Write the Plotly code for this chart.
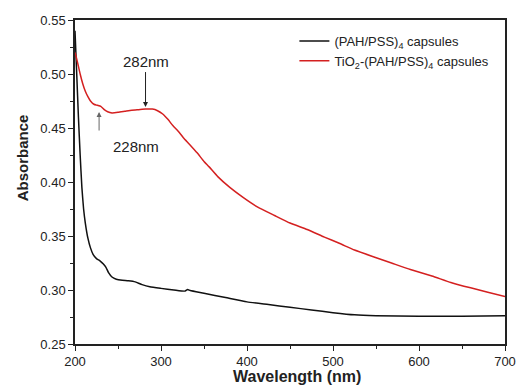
import plotly.graph_objects as go

# Black curve: (PAH/PSS)4 capsules
wl_black = [200, 202, 204, 206, 208, 210, 212, 215, 218, 221, 225, 229, 233, 236, 239, 243,
            248, 255, 262, 270, 278, 287, 300, 315, 328, 331, 334, 350, 375, 400, 425, 450,
            475, 500, 525, 550, 600, 650, 700]
abs_black = [0.540, 0.500, 0.460, 0.425, 0.395, 0.375, 0.362, 0.348, 0.339, 0.333, 0.329, 0.327,
             0.324, 0.321, 0.316, 0.312, 0.310, 0.309, 0.3085, 0.3075, 0.305, 0.303, 0.3015,
             0.300, 0.299, 0.3005, 0.2995, 0.297, 0.293, 0.289, 0.2865, 0.284, 0.2815, 0.279,
             0.277, 0.2762, 0.2758, 0.2757, 0.2762]

# Red curve: TiO2-(PAH/PSS)4 capsules
wl_red = [200, 202, 204, 206, 209, 212, 215, 218, 222, 226, 230, 234, 238, 243, 250, 258, 266,
          274, 282, 290, 296, 302, 308, 314, 320, 326, 333, 342, 350, 356, 366, 380, 395, 412,
          432, 450, 470, 490, 508, 525, 546, 568, 590, 615, 637, 660, 680, 700]
abs_red = [0.520, 0.514, 0.507, 0.500, 0.491, 0.484, 0.479, 0.475, 0.472, 0.471, 0.470, 0.467,
           0.465, 0.464, 0.4645, 0.4655, 0.4665, 0.467, 0.4675, 0.4675, 0.466, 0.463, 0.458,
           0.452, 0.447, 0.441, 0.435, 0.427, 0.419, 0.414, 0.405, 0.395, 0.386, 0.377, 0.369,
           0.362, 0.356, 0.349, 0.343, 0.337, 0.331, 0.325, 0.319, 0.313, 0.307, 0.302, 0.298,
           0.294]

x_ticks = [200, 300, 400, 500, 600, 700]
y_ticks = [0.25, 0.30, 0.35, 0.40, 0.45, 0.50, 0.55]
y_tick_labels = ["0.25", "0.30", "0.35", "0.40", "0.45", "0.50", "0.55"]

FONT = "Arial, Liberation Sans, sans-serif"

fig = go.Figure()
fig.add_trace(go.Scatter(x=wl_black, y=abs_black, mode="lines",
                         line=dict(color="#111111", width=1.5, shape="spline", smoothing=0.5),
                         name="(PAH/PSS)<sub>4</sub> capsules"))
fig.add_trace(go.Scatter(x=wl_red, y=abs_red, mode="lines",
                         line=dict(color="#d42020", width=1.5, shape="spline", smoothing=0.5),
                         name="TiO<sub>2</sub>-(PAH/PSS)<sub>4</sub> capsules"))

W, H = 525, 388
L, T = 75, 20
pw, ph = 441, 324
R = W - L - pw
B = H - T - ph

def px_x(p):  # p in page pixels
    return (p - L) / pw

def px_y(p):
    return 1 - (p - T) / ph

fig.update_layout(
    width=W, height=H,
    margin=dict(l=L, r=R, t=T, b=B, pad=0),
    paper_bgcolor="white", plot_bgcolor="white",
    font=dict(family=FONT, size=13, color="#222222"),
    showlegend=True,
    legend=dict(x=px_x(300), y=px_y(26), xanchor="left", yanchor="top",
                bgcolor="rgba(0,0,0,0)", font=dict(size=13, family=FONT, color="#222222"),
                tracegroupgap=0, itemwidth=30),
    xaxis=dict(range=[200, 700], tickvals=x_ticks, ticktext=[str(v) for v in x_ticks],
               showgrid=False, zeroline=False, showline=True, linecolor="#222222",
               linewidth=1.5, mirror=True, ticks="outside", ticklen=5, tickwidth=1.2,
               tickcolor="#222222", tickfont=dict(size=13),
               minor=dict(tickvals=[250, 350, 450, 550, 650], ticks="outside", ticklen=3,
                          tickwidth=1.2, tickcolor="#222222")),
    yaxis=dict(range=[0.25, 0.55], tickvals=y_ticks, ticktext=y_tick_labels,
               showgrid=False, zeroline=False, showline=True, linecolor="#222222",
               linewidth=1.5, mirror=True, ticks="outside", ticklen=5, tickwidth=1.2,
               tickcolor="#222222", tickfont=dict(size=13),
               minor=dict(tickvals=[0.275, 0.325, 0.375, 0.425, 0.475, 0.525], ticks="outside",
                          ticklen=3, tickwidth=1.2, tickcolor="#222222")),
)

# Axis titles
fig.add_annotation(text="<b>Wavelength (nm)</b>", xref="paper", yref="paper",
                   x=px_x(303), y=px_y(376), showarrow=False, font=dict(size=16),
                   xanchor="center", yanchor="middle")
fig.add_annotation(text="<b>Absorbance</b>", xref="paper", yref="paper",
                   x=px_x(21), y=px_y(158), showarrow=False, font=dict(size=15),
                   textangle=-90, xanchor="center", yanchor="middle")

# Peak labels and arrows
fig.add_annotation(text="282nm", x=282, y=0.4694, ax=0, ay=-35, showarrow=True,
                   arrowhead=2, arrowsize=1, arrowwidth=1, arrowcolor="#222222",
                   font=dict(size=15), yanchor="bottom", standoff=0)
fig.add_annotation(text="228nm", xref="paper", yref="paper", x=px_x(112), y=px_y(146),
                   showarrow=False, font=dict(size=15))
fig.add_annotation(text="", x=228, y=0.4648, ax=0, ay=20, showarrow=True,
                   arrowhead=2, arrowsize=1, arrowwidth=1, arrowcolor="#666666")

fig.write_html(
    "out.html",
    config={"displayModeBar": False},
    post_script="document.body.style.margin='0';document.body.style.padding='0';"
                "document.body.style.overflow='hidden';",
)
